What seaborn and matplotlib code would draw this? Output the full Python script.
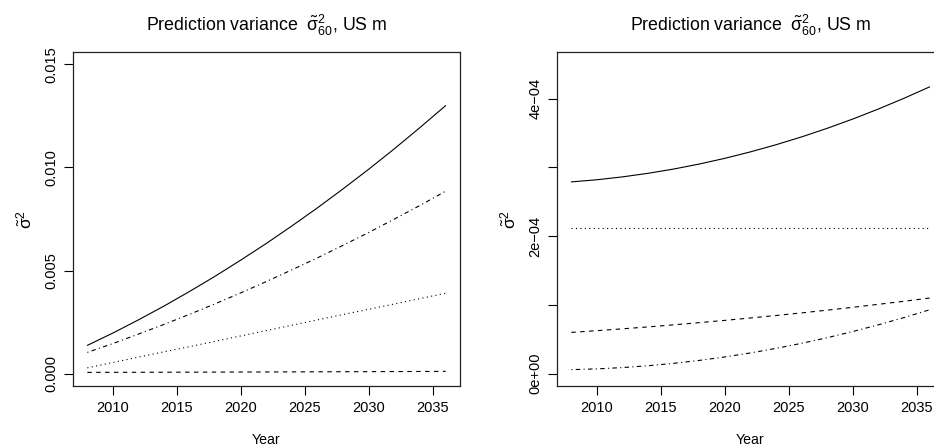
import numpy as np
import pandas as pd
import matplotlib
matplotlib.use("Agg")
import matplotlib.pyplot as plt
import seaborn as sns

# Projection years (every second year)
years = [2008, 2010, 2012, 2014, 2016, 2018, 2020, 2022,
         2024, 2026, 2028, 2030, 2032, 2034, 2036]

# Left panel: total prediction variance and its components
left_solid = [0.00137, 0.00197, 0.00261, 0.00328, 0.00399, 0.00473, 0.00551, 0.00632,
              0.00717, 0.00805, 0.00897, 0.00992, 0.01091, 0.01194, 0.01300]
left_dotdash = [0.00103, 0.00146, 0.00192, 0.00239, 0.00288, 0.00339, 0.00392, 0.00447,
                0.00504, 0.00562, 0.00623, 0.00685, 0.00750, 0.00816, 0.00885]
left_dotted = [0.00028, 0.00054, 0.00080, 0.00106, 0.00131, 0.00157, 0.00183, 0.00209,
               0.00235, 0.00261, 0.00287, 0.00312, 0.00338, 0.00364, 0.00390]
left_dashed = [6.00e-5, 6.25e-5, 6.52e-5, 6.80e-5, 7.10e-5, 7.42e-5, 7.75e-5, 8.10e-5,
               8.46e-5, 8.84e-5, 9.24e-5, 9.65e-5, 1.009e-4, 1.053e-4, 1.100e-4]

# Right panel
right_solid = [2.790e-4, 2.821e-4, 2.863e-4, 2.915e-4, 2.977e-4, 3.050e-4, 3.133e-4, 3.227e-4,
               3.331e-4, 3.445e-4, 3.570e-4, 3.705e-4, 3.851e-4, 4.007e-4, 4.173e-4]
right_dotted = [2.12e-4] * 15
right_dashed = [6.00e-5, 6.25e-5, 6.52e-5, 6.80e-5, 7.10e-5, 7.42e-5, 7.75e-5, 8.10e-5,
                8.46e-5, 8.84e-5, 9.24e-5, 9.65e-5, 1.009e-4, 1.053e-4, 1.100e-4]
right_dotdash = [5.80e-6, 6.91e-6, 8.81e-6, 1.150e-5, 1.497e-5, 1.923e-5, 2.428e-5, 3.011e-5,
                 3.673e-5, 4.413e-5, 5.232e-5, 6.130e-5, 7.106e-5, 8.161e-5, 9.295e-5]

left_ticks = [0.000, 0.005, 0.010, 0.015]
left_ticklabels = ["0.000", "0.005", "0.010", "0.015"]
right_ticks = [0, 1e-4, 2e-4, 3e-4, 4e-4]
right_ticklabels = ["0e+00", "", "2e\u221204", "", "4e\u221204"]
x_ticks = [2010, 2015, 2020, 2025, 2030, 2035]

title = r"Prediction variance  $\tilde{\mathrm{\sigma}}^{2}_{60}$, US m"
ylab = r"$\tilde{\mathrm{\sigma}}^{2}$"

sns.set_style("white")
plt.rcParams["font.family"] = ["Liberation Sans", "DejaVu Sans"]
plt.rcParams["mathtext.fontset"] = "custom"
plt.rcParams["mathtext.rm"] = "Liberation Sans"
plt.rcParams["mathtext.it"] = "Liberation Sans:italic"
plt.rcParams["mathtext.bf"] = "Liberation Sans:bold"
plt.rcParams["text.color"] = "black"
plt.rcParams["axes.labelcolor"] = "black"
plt.rcParams["xtick.color"] = "black"
plt.rcParams["ytick.color"] = "black"

dash_map = {"solid": "", "dashed": (4, 4), "dotted": (1, 3), "dotdash": (1, 3, 4, 3)}


def long_frame(series):
    rows = []
    for name, vals in series.items():
        for yr, v in zip(years, vals):
            rows.append({"year": yr, "value": v, "kind": name})
    return pd.DataFrame(rows)


left_df = long_frame({"solid": left_solid, "dotdash": left_dotdash,
                      "dotted": left_dotted, "dashed": left_dashed})
right_df = long_frame({"solid": right_solid, "dotted": right_dotted,
                       "dashed": right_dashed, "dotdash": right_dotdash})

fig = plt.figure(figsize=(9.34, 4.48), dpi=100)
W, H = 934, 448
ax_l = fig.add_axes([73 / W, (H - 386) / H, 387 / W, 334 / H])
ax_r = fig.add_axes([557 / W, (H - 386) / H, 387 / W, 334 / H])

for ax, df, ylim, ticks, labels in [
    (ax_l, left_df, (-0.0006, 0.0156), left_ticks, left_ticklabels),
    (ax_r, right_df, (-1.8e-5, 4.68e-4), right_ticks, right_ticklabels),
]:
    sns.lineplot(data=df, x="year", y="value", style="kind", dashes=dash_map,
                 color="black", linewidth=0.8, legend=False, ax=ax)
    ax.set_xlim(2006.88, 2037.12)
    ax.set_ylim(*ylim)
    ax.set_xticks(x_ticks)
    ax.set_xticklabels([str(t) for t in x_ticks])
    ax.set_yticks(ticks)
    ax.set_yticklabels(labels, rotation=90, va="center")
    ax.tick_params(axis="both", direction="out", length=6.5, width=0.8,
                   color="black", labelcolor="black", labelsize=10.5, pad=4,
                   left=True, bottom=True)
    for sp in ax.spines.values():
        sp.set_visible(True)
        sp.set_color("#222222")
        sp.set_linewidth(0.9)
    ax.set_xlabel("Year", fontsize=10.2, labelpad=13, color="black")
    ax.set_ylabel(ylab, fontsize=12.5, labelpad=7, color="black")
    ax.set_title(title, fontsize=12.8, pad=15, color="black")
    ax.grid(False)

fig.savefig("out.png", dpi=100)
